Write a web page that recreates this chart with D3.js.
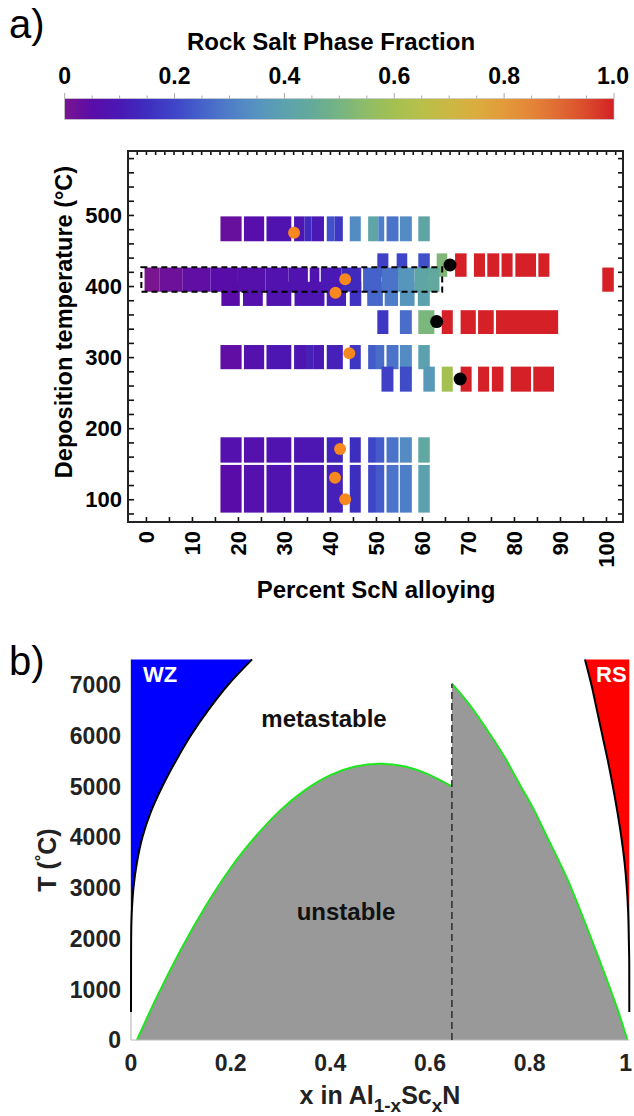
<!DOCTYPE html>
<html>
<head>
<meta charset="utf-8">
<script src="https://cdn.jsdelivr.net/npm/d3@7/dist/d3.min.js"></script>
<style>
body{margin:0;background:#fff;}
text{font-family:"Liberation Sans",Arial,sans-serif;}
</style>
</head>
<body>
<script>
//colour bar
var cbStops  = [0,0.05,0.1,0.15,0.2,0.25,0.3,0.35,0.4,0.45,0.5,0.55,0.6,0.65,0.7,0.75,0.8,0.85,0.9,0.95,1];
var cbColors = ["#7a1590","#5a0ca8","#4a18b5","#3e2ec0","#3f45c8","#4562ca","#4f7ec8","#5693c0","#5ca2ae","#64aa9a",
                "#76b482","#8fbc68","#a4c050","#b8c04a","#cbb843","#dbac3e","#e39a3a","#e48538","#e06a33","#da4a2c","#d42026"];
var cbTicks = [0,0.2,0.4,0.6,0.8,1.0];
var cbTickLabels = ["0","0.2","0.4","0.6","0.8","1.0"];

//panel a : cells are [startPercent, endPercent, rockSaltFraction]
var row480 = [[16.2,20.8,0.03],[21.3,25.7,0.06],[26.2,31.6,0.08],[32.2,34.5,0.09],[34.5,36,0.14],[36,38.7,0.1],
              [39.3,41,0.22],[41,42.8,0.17],[44.3,46.7,0.33],[48.3,50.5,0.42],[50.5,51.8,0.3],[52.3,54.9,0.28],
              [55.2,57.8,0.33],[59.2,61.7,0.42]];
var row430 = [[50.3,52.7,0.19],[54.5,56.8,0.2],[59.2,61.7,0.22],[63.2,65.5,0.52],[67.2,69.7,1],[71.3,73.7,1],
              [74.2,76.8,1],[77.3,79.7,1],[80.3,84.8,1],[85.3,87.7,1]];
var row390 = [[16.4,20.4,0.05],[21.1,25.4,0.07],[26.2,31.6,0.08],[32.3,38.8,0.09],[39.3,43.5,0.12],[44.3,46.8,0.16],
              [48.1,51.5,0.26],[51.9,54.8,0.3],[55.2,58.4,0.36],[59.1,61.7,0.4]];
var row410 = [[-0.3,3,0.0],[3,8,0.02],[8,14,0.04],[14,20,0.055],[20,26,0.065],[26,31,0.075],[31,35.2,0.08],
              [35.6,37.7,0.08],[38,42.5,0.1],[42.5,46.8,0.14],[47.2,51.2,0.25],[51.2,54.8,0.28],[54.8,58.4,0.36],
              [58.4,61.3,0.42],[61.3,63.8,0.44],[99.2,101.7,1]];
var row350 = [[50.3,52.7,0.17],[55.2,57.8,0.27],[59.2,62.7,0.51],[64.3,66.7,1],[68.4,71.7,1],[72.2,75.6,1],[76.1,89.6,1]];
var row300 = [[16.2,20.8,0.04],[21.3,25.7,0.07],[26.2,31.6,0.09],[32.2,35,0.09],[35,36.5,0.12],[36.5,38.7,0.1],
              [39.3,42.8,0.12],[44.3,46.7,0.17],[48.3,50,0.24],[50,51.8,0.27],[52.3,54.9,0.28],[55.2,57.8,0.33],[59.2,61.7,0.4]];
var row270 = [[51.2,53.8,0.19],[55.2,57.8,0.21],[60.3,62.8,0.37],[64.3,66.7,0.6],[68.4,70.8,1],[72.2,74.6,1],
              [75.2,77.7,1],[79.3,83.7,1],[84.2,88.7,1]];
var row170 = [[16.2,20.8,0.07],[21.3,25.7,0.07],[26.2,31.6,0.08],[32.2,38.7,0.09],[39.3,42.8,0.13],[44.3,46.7,0.15],
              [48.3,50,0.2],[50,51.8,0.24],[52.3,54.9,0.28],[55.2,57.8,0.33],[59.2,61.7,0.43]];
var row120 = [[16.2,20.8,0.05],[21.3,25.7,0.07],[26.2,31.6,0.08],[32.2,38.7,0.1],[39.3,42.8,0.12],[44.3,46.7,0.15],
              [48.3,50,0.2],[50,51.8,0.24],[52.3,54.9,0.28],[55.2,57.8,0.3],[59.2,61.7,0.4]];
// temperature span of each row (degC), same order as rowCells
var rowTemps = [[463,498],[413,446],[372,406],[392,426],[332.5,366],[283,317],[251.4,286.6],[151.5,187.2],[81.2,148.3]];
var rowCells = [row480,row430,row390,row410,row350,row300,row270,row170,row120];
var dashedBox = [-1,64.4,392,426.4];

var orangeDots = [[32.2,475],[43.3,409.5],[41.2,390.7],[44.2,305.4],[42.2,170.8],[41.1,130.4],[43.3,100]];
var blackDots  = [[66.1,429.6],[63.2,350],[68.3,269.2]];

//panel b : points are [x, T(degC)]
var wzBoundary = [[0,550],[0.0001,1500],[0.0003,2000],[0.0015,2500],[0.005,3000],[0.012,3500],[0.023,4000],
                  [0.04,4500],[0.063,5000],[0.09,5500],[0.12,6000],[0.155,6500],[0.195,7000],[0.243,7500]];
var rsBoundary = [[1,550],[0.9999,1500],[0.999,2000],[0.9978,2500],[0.995,3000],[0.9905,3500],[0.984,4000],
                  [0.976,4500],[0.967,5000],[0.957,5500],[0.946,6000],[0.935,6500],[0.924,7000],[0.911,7500]];
var spinLeft  = [[0.012,0],[0.05,810],[0.1,1780],[0.15,2640],[0.2,3390],[0.25,4010],[0.3,4530],[0.35,4930],
                 [0.4,5220],[0.45,5390],[0.5,5444],[0.55,5390],[0.6,5220],[0.644,4996]];
var spinRight = [[0.644,7022],[0.68,6600],[0.714,6120],[0.75,5570],[0.781,5020],[0.81,4510],[0.834,4020],
                 [0.86,3500],[0.878,3120],[0.9,2590],[0.92,2090],[0.94,1580],[0.96,1050],[0.98,500],[0.996,0]];
var splitX = 0.644;
var xTicksB = [0,0.2,0.4,0.6,0.8,1];
var xTickLabelsB = ["0","0.2","0.4","0.6","0.8","1"];
var yTicksB = [0,1000,2000,3000,4000,5000,6000,7000];

var svg = d3.select('body').append('svg')
            .attr('width',634).attr('height',1116);

var color = d3.scaleLinear().domain(cbStops).range(cbColors);

// ---------- panel a ----------
svg.append('text').attr('x',9).attr('y',38).style('font-size','40px').text('a)');

svg.append('text').attr('x',331).attr('y',50).attr('text-anchor','middle')
   .style('font-size','24px').style('font-weight','bold').text('Rock Salt Phase Fraction');

var cbX = d3.scaleLinear().domain([0,1]).range([64.7,614]);
var grad = svg.append('defs').append('linearGradient').attr('id','cbgrad');
grad.selectAll('stop').data(cbStops).enter().append('stop')
    .attr('offset',function(d){return (d*100)+'%';})
    .attr('stop-color',function(d,i){return cbColors[i];});
svg.append('rect').attr('x',cbX(0)).attr('y',98.7).attr('width',cbX(1)-cbX(0)).attr('height',20.6)
   .attr('fill','url(#cbgrad)').attr('stroke','#bbb').attr('stroke-width',0.6);
svg.append('g').selectAll('line').data(d3.range(0,1.0001,0.05)).enter().append('line')
   .attr('x1',function(d){return cbX(d);}).attr('x2',function(d){return cbX(d);})
   .attr('y1',98.7).attr('y2',function(d,i){return i%4===0 ? 93 : 95.5;})
   .attr('stroke','#aaa').attr('stroke-width',1);
svg.append('g').selectAll('text').data(cbTicks).enter().append('text')
   .attr('x',function(d){return d===1 ? 629 : cbX(d);})
   .attr('y',84)
   .attr('text-anchor',function(d){return d===1 ? 'end' : 'middle';})
   .style('font-size','23px').style('font-weight','bold')
   .text(function(d,i){return cbTickLabels[i];});

var xA = d3.scaleLinear().domain([-3.9,103.7]).range([128,623]);
var yA = d3.scaleLinear().domain([68,590]).range([522,151]);

var cellG = svg.append('g');
rowCells.forEach(function(cells,r){
  var t = rowTemps[r];
  cellG.append('g').selectAll('rect').data(cells).enter().append('rect')
    .attr('x',function(d){return xA(d[0]);})
    .attr('width',function(d){return xA(d[1])-xA(d[0]);})
    .attr('y',yA(t[1]))
    .attr('height',yA(t[0])-yA(t[1]))
    .attr('fill',function(d){return color(d[2]);});
});

svg.append('rect')
   .attr('x',xA(dashedBox[0])).attr('y',yA(dashedBox[3]))
   .attr('width',xA(dashedBox[1])-xA(dashedBox[0]))
   .attr('height',yA(dashedBox[2])-yA(dashedBox[3]))
   .attr('fill','none').attr('stroke','#000').attr('stroke-width',2)
   .attr('stroke-dasharray','6,4');

svg.append('g').selectAll('circle').data(orangeDots).enter().append('circle')
   .attr('cx',function(d){return xA(d[0]);}).attr('cy',function(d){return yA(d[1]);})
   .attr('r',6).attr('fill','#f7871f');
svg.append('g').selectAll('circle').data(blackDots).enter().append('circle')
   .attr('cx',function(d){return xA(d[0]);}).attr('cy',function(d){return yA(d[1]);})
   .attr('r',6.5).attr('fill','#000');

// axes of panel a (ticks inside the frame)
var axL = svg.append('g').attr('transform','translate(128,0)')
   .call(d3.axisLeft(yA).tickValues(d3.range(80,590,20)).tickSize(-6).tickPadding(6)
         .tickFormat(function(d){return d%100===0 ? d : '';}));
var axR = svg.append('g').attr('transform','translate(623,0)')
   .call(d3.axisRight(yA).tickValues(d3.range(80,590,20)).tickSize(-5).tickFormat(''));
var axT = svg.append('g').attr('transform','translate(0,151)')
   .call(d3.axisTop(xA).tickValues(d3.range(-2,103,2)).tickSize(-4).tickFormat(''));
var axB = svg.append('g').attr('transform','translate(0,522)')
   .call(d3.axisBottom(xA).tickValues(d3.range(0,101,5)).tickSize(-5)
         .tickFormat(function(d){return d%10===0 ? d : '';}));
[axL,axR,axT,axB].forEach(function(g){
  g.select('.domain').remove();
  g.selectAll('line').attr('stroke','#111').attr('stroke-width',1.6);
  g.selectAll('text').attr('fill','#000').style('font-size','22px').style('font-weight','bold')
   .style('font-family','"Liberation Sans",Arial,sans-serif');
});
axB.selectAll('text')
   .attr('transform','translate(0,9) rotate(-90)')
   .attr('x',0).attr('y',0).attr('dy','0.36em')
   .attr('text-anchor','end');

svg.append('rect').attr('x',128).attr('y',151).attr('width',495).attr('height',371)
   .attr('fill','none').attr('stroke','#222').attr('stroke-width',2);

svg.append('text').attr('transform','translate(72,322) rotate(-90)').attr('text-anchor','middle')
   .style('font-size','23.5px').style('font-weight','bold').text('Deposition temperature (°C)');
svg.append('text').attr('x',376).attr('y',598).attr('text-anchor','middle')
   .style('font-size','24px').style('font-weight','bold').text('Percent ScN alloying');

// ---------- panel b ----------
svg.append('text').attr('x',9).attr('y',675).style('font-size','40px').text('b)');

var xB = d3.scaleLinear().domain([0,1]).range([131,629.3]);
var yB = d3.scaleLinear().domain([0,7500]).range([1040,659.4]);

// gray unstable region
var spinAll = spinLeft.concat(spinRight);
svg.append('path').datum(spinAll)
   .attr('d',d3.area().x(function(d){return xB(d[0]);}).y0(yB(0)).y1(function(d){return yB(d[1]);})
           .curve(d3.curveLinear))
   .attr('fill','#999');
[spinLeft,spinRight].forEach(function(pts){
  svg.append('path').datum(pts)
     .attr('d',d3.line().x(function(d){return xB(d[0]);}).y(function(d){return yB(d[1]);}).curve(d3.curveMonotoneX))
     .attr('fill','none').attr('stroke','#1de61d').attr('stroke-width',2);
});

// axes lines
svg.append('line').attr('x1',xB(0)).attr('x2',xB(1)).attr('y1',yB(0)).attr('y2',yB(0))
   .attr('stroke','#bbb').attr('stroke-width',1.2);
svg.append('line').attr('x1',xB(0)).attr('x2',xB(0)).attr('y1',yB(0)).attr('y2',yB(7500))
   .attr('stroke','#bbb').attr('stroke-width',1.2);

// WZ and RS regions
var wzArea = d3.area().y(function(d){return yB(d[1]);}).x0(xB(0)).x1(function(d){return xB(d[0]);})
               .curve(d3.curveMonotoneY);
svg.append('path').datum(wzBoundary).attr('d',wzArea).attr('fill','#0000ff');
var rsArea = d3.area().y(function(d){return yB(d[1]);}).x0(xB(1)).x1(function(d){return xB(d[0]);})
               .curve(d3.curveMonotoneY);
svg.append('path').datum(rsBoundary).attr('d',rsArea).attr('fill','#ff0000');
var bLine = d3.line().x(function(d){return xB(d[0]);}).y(function(d){return yB(d[1]);}).curve(d3.curveMonotoneY);
svg.append('path').datum(wzBoundary).attr('d',bLine).attr('fill','none').attr('stroke','#000').attr('stroke-width',2);
svg.append('path').datum(rsBoundary).attr('d',bLine).attr('fill','none').attr('stroke','#000').attr('stroke-width',2);

// dashed split line
svg.append('line').attr('x1',xB(splitX)).attr('x2',xB(splitX)).attr('y1',yB(0)).attr('y2',yB(spinRight[0][1]))
   .attr('stroke','#333').attr('stroke-width',1.6).attr('stroke-dasharray','7,4');

// tick labels
svg.append('g').selectAll('text').data(yTicksB).enter().append('text')
   .attr('x',121).attr('y',function(d){return yB(d);}).attr('dy','0.36em')
   .attr('text-anchor','end').attr('fill','#222')
   .style('font-size','23px').style('font-weight','bold').text(function(d){return d;});
svg.append('g').selectAll('text').data(xTicksB).enter().append('text')
   .attr('x',function(d){return d===1 ? 632 : xB(d);}).attr('y',1071)
   .attr('text-anchor',function(d){return d===1 ? 'end' : 'middle';}).attr('fill','#222')
   .style('font-size','23px').style('font-weight','bold').text(function(d,i){return xTickLabelsB[i];});

// region labels
svg.append('text').attr('x',143).attr('y',682).attr('fill','#fff')
   .style('font-size','22px').style('font-weight','bold').text('WZ');
svg.append('text').attr('x',596).attr('y',682).attr('fill','#fff')
   .style('font-size','22px').style('font-weight','bold').text('RS');
svg.append('text').attr('x',324).attr('y',727).attr('text-anchor','middle').attr('fill','#111')
   .style('font-size','24px').style('font-weight','bold').text('metastable');
svg.append('text').attr('x',346).attr('y',920).attr('text-anchor','middle').attr('fill','#111')
   .style('font-size','24px').style('font-weight','bold').text('unstable');

// axis titles
var yt = svg.append('text').attr('transform','translate(56,860) rotate(-90)').attr('text-anchor','middle')
   .attr('fill','#222').style('font-size','25px').style('font-weight','bold');
yt.append('tspan').text('T (');
yt.append('tspan').attr('dy',-9).style('font-size','16px').text('°');
yt.append('tspan').attr('dy',9).text('C)');

var xt = svg.append('text').attr('x',380).attr('y',1104).attr('text-anchor','middle')
   .attr('fill','#222').style('font-size','25px').style('font-weight','bold');
xt.append('tspan').text('x in Al');
xt.append('tspan').attr('dy',8).style('font-size','19px').text('1-x');
xt.append('tspan').attr('dy',-8).text('Sc');
xt.append('tspan').attr('dy',8).style('font-size','19px').text('x');
xt.append('tspan').attr('dy',-8).text('N');
</script>
</body>
</html>
